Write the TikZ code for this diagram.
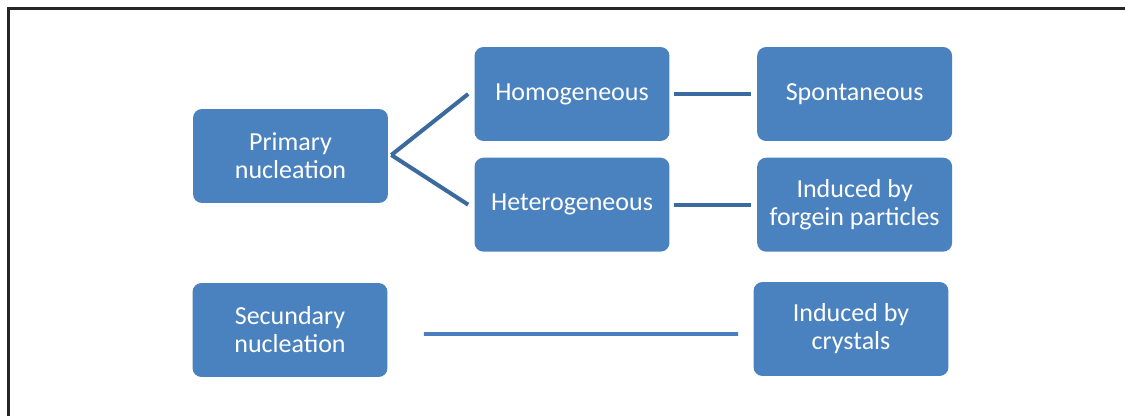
\documentclass[tikz,border=0pt]{standalone}
\usepackage{fontspec}
\setmainfont{Carlito}
\usetikzlibrary{positioning}
\definecolor{boxblue}{HTML}{4A81BF}
\definecolor{lndark}{HTML}{3A6A9E}
\definecolor{lnlight}{HTML}{4A7EBE}
\definecolor{framegray}{HTML}{262626}
\begin{document}
\begin{tikzpicture}[x=0.02cm,y=-0.02cm]

\tikzstyle{bx} = [rectangle, rounded corners=0.18cm, minimum width=3.9cm, minimum height=1.88cm, align=center, fill=boxblue, text=white, font=\fontsize{14.8}{15.9}\selectfont, inner sep=0pt]
\tikzstyle{ln} = [line width=2.3pt, draw=lndark]
\useasboundingbox (0,0) rectangle (1125,416);
\draw[framegray, line width=1.2pt] (8.5,416) -- (8.5,8.5) -- (1125,8.5);
\node (homo) [bx] at (572,94) {Homogeneous};
\node (hetero) [bx, below=0.32cm of homo] {Heterogeneous};
\node (spont) [bx, right=1.74cm of homo] {Spontaneous};
\node (forgein) [bx, right=1.74cm of hetero] {Induced by\\forgein particles};
\node (primary) [bx] at (290.5,156) {Primary\\nucleation};
\node (secund) [bx] at (290,330) {Secundary\\nucleation};
\node (crystals) [bx] at (851,329) {Induced by\\crystals};
\draw[ln] ([xshift=0.06cm,yshift=0.02cm]primary.east) -- ([xshift=-0.12cm,yshift=0.0cm]homo.west);
\draw[ln] ([xshift=0.06cm,yshift=0.02cm]primary.east) -- ([xshift=-0.12cm]hetero.west);
\draw[ln, shorten <=0.08cm, shorten >=0.12cm] (homo) -- (spont);
\draw[ln, shorten <=0.08cm, shorten >=0.12cm] (hetero) -- (forgein);
\draw[ln, draw=lnlight, line width=2pt] ([xshift=0.72cm,yshift=-0.08cm]secund.east) -- ([xshift=-0.3cm,yshift=-0.1cm]crystals.west);
\end{tikzpicture}
\end{document}
